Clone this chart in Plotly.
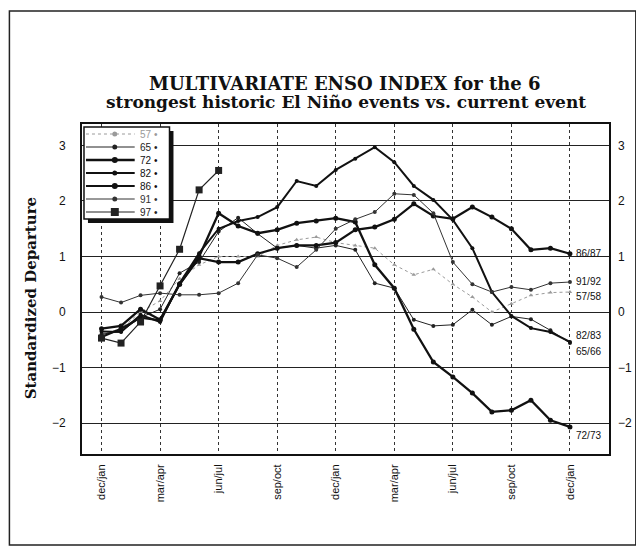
import plotly.graph_objects as go

# ---------------- data ----------------
months = ["dec/jan", "jan/feb", "feb/mar", "mar/apr", "apr/may", "may/jun", "jun/jul",
          "jul/aug", "aug/sep", "sep/oct", "oct/nov", "nov/dec",
          "dec/jan", "jan/feb", "feb/mar", "mar/apr", "apr/may", "may/jun", "jun/jul",
          "jul/aug", "aug/sep", "sep/oct", "oct/nov", "nov/dec", "dec/jan"]
tick_idx = [0, 3, 6, 9, 12, 15, 18, 21, 24]

s57 = [-0.40, -0.30, 0.00, 0.20, 0.60, 0.85, 1.00, 1.00, 1.00, 1.20, 1.30, 1.35, 1.25,
       1.20, 1.15, 0.85, 0.67, 0.77, 0.50, 0.27, 0.00, 0.15, 0.30, 0.35, 0.36]
s65 = [-0.40, -0.35, -0.10, 0.05, 0.70, 0.90, 1.45, 1.70, 1.41, 1.15, 1.20, 1.15, 1.20,
       1.12, 0.52, 0.43, -0.14, -0.25, -0.23, 0.04, -0.23, -0.08, -0.13, -0.33, -0.56]
s72 = [-0.30, -0.25, 0.05, -0.14, 0.50, 1.00, 1.78, 1.55, 1.42, 1.48, 1.60, 1.64, 1.69,
       1.62, 0.85, 0.43, -0.31, -0.90, -1.17, -1.46, -1.80, -1.77, -1.59, -1.95, -2.07]
s82 = [-0.35, -0.36, -0.05, -0.18, 0.52, 1.06, 1.50, 1.64, 1.71, 1.89, 2.36, 2.27, 2.56,
       2.76, 2.97, 2.70, 2.27, 2.02, 1.66, 1.15, 0.36, -0.07, -0.29, -0.36, -0.54]
s86 = [-0.45, -0.30, -0.10, -0.15, 0.50, 0.97, 0.90, 0.90, 1.05, 1.15, 1.20, 1.20, 1.25,
       1.48, 1.53, 1.67, 1.95, 1.73, 1.68, 1.89, 1.71, 1.50, 1.12, 1.15, 1.05]
s91 = [0.27, 0.17, 0.30, 0.34, 0.31, 0.31, 0.34, 0.52, 1.03, 0.97, 0.81, 1.12, 1.50,
       1.67, 1.80, 2.13, 2.11, 1.78, 0.90, 0.50, 0.36, 0.45, 0.40, 0.52, 0.54]
s97 = [-0.47, -0.56, -0.18, 0.47, 1.13, 2.20, 2.55]

legend_names = ["57", "65", "72", "82", "86", "91", "97"]
end_labels = ["57/58", "65/66", "72/73", "82/83", "86/87", "91/92"]
end_label_pos = [0.28, -0.72, -2.22, -0.43, 1.05, 0.55]
y_ticks = [-2, -1, 0, 1, 2, 3]

title_lines = ["MULTIVARIATE ENSO INDEX for the 6",
               "strongest historic El Niño events vs. current event"]
y_title = "Standardized Departure"

# ---------------- styles ----------------
series = [s57, s65, s72, s82, s86, s91, s97]
styles = [
    dict(color="#9a9a9a", width=1, dash="dot", symbol="triangle-up", size=4),
    dict(color="#222222", width=1, dash="solid", symbol="circle", size=4),
    dict(color="#111111", width=2.3, dash="solid", symbol="circle", size=5),
    dict(color="#111111", width=2, dash="solid", symbol="circle", size=4),
    dict(color="#111111", width=2.2, dash="solid", symbol="circle", size=5),
    dict(color="#333333", width=1, dash="solid", symbol="circle", size=4),
    dict(color="#222222", width=1.2, dash="solid", symbol="square", size=7),
]

OFF = 8                     # page body margin of the browser
W, H = 644 - OFF, 549 - OFF
L, R, T, B = 82, 612, 124, 454   # plot area in reference (window) pixels


def px(x):
    return (x - L) / (R - L)


def py(y):
    return (B - y) / (B - T)


fig = go.Figure()
x_all = list(range(len(months)))
for s, st, nm in zip(series, styles, legend_names):
    fig.add_trace(go.Scatter(
        x=x_all[:len(s)], y=s, mode="lines+markers", name=nm,
        line=dict(color=st["color"], width=st["width"], dash=st["dash"]),
        marker=dict(symbol=st["symbol"], size=st["size"], color=st["color"]),
        showlegend=False, cliponaxis=False))

shapes = []
annotations = []

# outer frame
shapes.append(dict(type="rect", xref="paper", yref="paper",
                   x0=px(9), x1=px(639), y0=py(545), y1=py(11),
                   line=dict(color="#222", width=1.5)))

# manual legend box with shadow
shapes.append(dict(type="rect", xref="paper", yref="paper",
                   x0=px(88), x1=px(174), y0=py(223), y1=py(131),
                   fillcolor="#111", line=dict(width=0), layer="above"))
shapes.append(dict(type="rect", xref="paper", yref="paper",
                   x0=px(84), x1=px(170), y0=py(219), y1=py(127),
                   fillcolor="white", line=dict(color="#111", width=1.5), layer="above"))
leg_lines = []
for i, (nm, st) in enumerate(zip(legend_names, styles)):
    yy = 134 + 13 * i
    shapes.append(dict(type="line", xref="paper", yref="paper",
                       x0=px(86), x1=px(135), y0=py(yy), y1=py(yy), layer="above",
                       line=dict(color=st["color"], width=st["width"],
                                 dash="dot" if st["dash"] == "dot" else "solid")))
    ms = st["size"] / 2 + 0.5
    shapes.append(dict(type="rect" if st["symbol"] == "square" else "circle",
                       xref="paper", yref="paper", layer="above",
                       x0=px(115 - ms), x1=px(115 + ms), y0=py(yy + ms), y1=py(yy - ms),
                       fillcolor=st["color"], line=dict(width=0)))
    leg_lines.append("<span style='color:%s'>%s •</span>" % (st["color"], nm))
annotations.append(dict(xref="paper", yref="paper", x=px(138), y=py(173),
                        xanchor="left", yanchor="middle", align="left",
                        showarrow=False, text="<br>".join(leg_lines),
                        font=dict(family="Liberation Sans", size=10, color="#111")))

# end labels
for lab, yv in zip(end_labels, end_label_pos):
    annotations.append(dict(x=24, y=yv, xref="x", yref="y", xanchor="left",
                            yanchor="middle", xshift=4, showarrow=False, text=lab,
                            font=dict(family="Liberation Sans Narrow, Liberation Sans",
                                      size=10, color="#111")))

# title
annotations.append(dict(xref="paper", yref="paper", x=px(346), y=py(83),
                        xanchor="center", yanchor="middle", showarrow=False,
                        text="<b>" + title_lines[0] + "</b>",
                        font=dict(family="DejaVu Serif", size=18, color="#111")))
annotations.append(dict(xref="paper", yref="paper", x=px(347), y=py(102),
                        xanchor="center", yanchor="middle", showarrow=False,
                        text="<b>" + title_lines[1] + "</b>",
                        font=dict(family="DejaVu Serif", size=17, color="#111")))
# y title
annotations.append(dict(xref="paper", yref="paper", x=px(31), y=py(298),
                        xanchor="center", yanchor="middle", showarrow=False,
                        textangle=-90, text="<b>" + y_title + "</b>",
                        font=dict(family="DejaVu Serif", size=15, color="#111")))

fig.update_layout(
    width=W, height=H,
    margin=dict(l=L - OFF, r=W - (R - OFF), t=T - OFF, b=H - (B - OFF)),
    paper_bgcolor="white", plot_bgcolor="white",
    shapes=shapes, annotations=annotations,
    xaxis=dict(range=[-1, 26], tickmode="array", tickvals=tick_idx,
               ticktext=[months[i] for i in tick_idx], tickangle=-90,
               showgrid=True, gridcolor="#333", griddash="dot", gridwidth=1,
               zeroline=False, showline=True, linecolor="#111", linewidth=2,
               mirror=True, ticks="", ticklabelstandoff=4,
               tickfont=dict(family="Liberation Sans Narrow, Liberation Sans",
                             size=11, color="#111")),
    yaxis=dict(range=[-2.558, 3.387], tickvals=y_ticks, showgrid=True,
               gridcolor="#222", gridwidth=1.4, zeroline=False, showline=True,
               linecolor="#111", linewidth=2, mirror=True, ticks="",
               ticklabelstandoff=12,
               tickfont=dict(family="Liberation Sans", size=12, color="#111")),
    yaxis2=dict(range=[-2.558, 3.387], tickvals=y_ticks, overlaying="y",
                side="right", showgrid=False, zeroline=False, ticks="",
                ticklabelstandoff=8, matches="y",
                tickfont=dict(family="Liberation Sans", size=12, color="#111")),
)
fig.add_trace(go.Scatter(x=[None], y=[None], yaxis="y2", showlegend=False,
                         hoverinfo="skip"))

fig.write_html("out.html")
